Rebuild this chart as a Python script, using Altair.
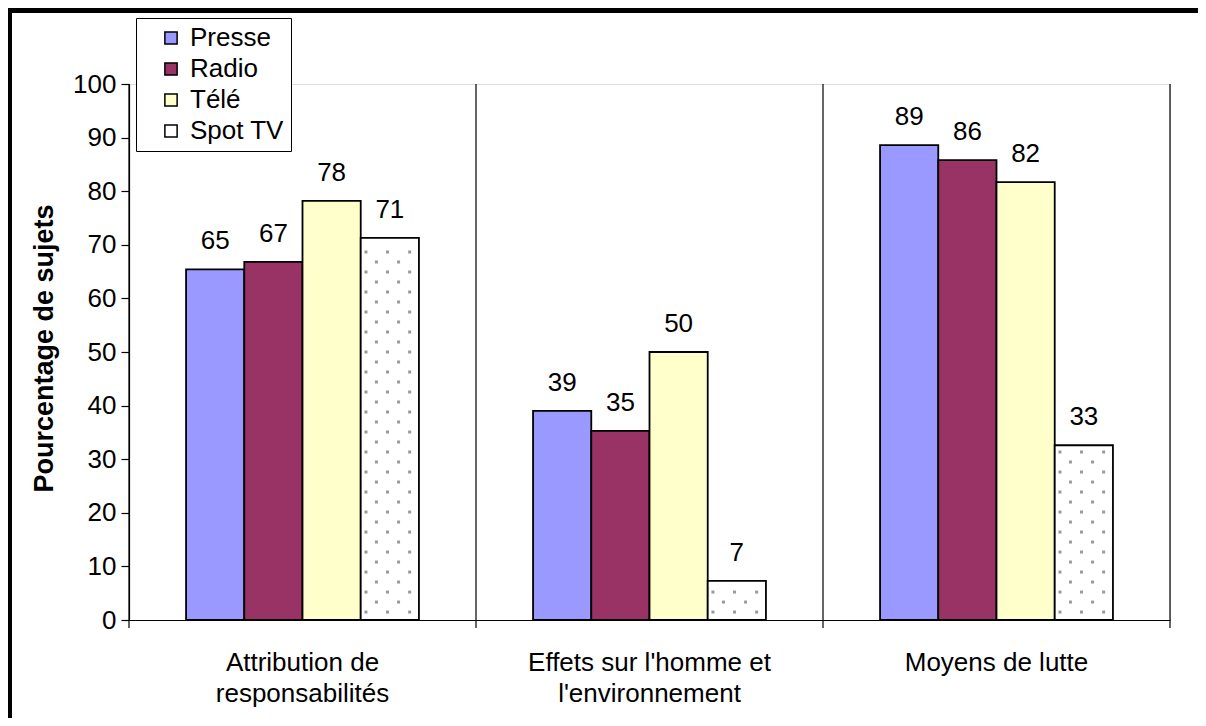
import altair as alt
import pandas as pd
import numpy as np

# ---- data ----
categories = ["Attribution de\nresponsabilités",
              "Effets sur l'homme et\nl'environnement",
              "Moyens de lutte"]
series = ["Presse", "Radio", "Télé", "Spot TV"]
presse = [65.4, 39.0, 88.6]
radio = [66.8, 35.3, 85.8]
tele = [78.2, 50.0, 81.7]
spot_tv = [71.3, 7.3, 32.6]
colors = ["#9999FF", "#993366", "#FFFFCC", "#FFFFFF"]
y_ticks = list(range(0, 101, 10))

W, H = 1041, 536
FONT = "Liberation Sans"
FS = 26

rows = []
for s, vals in zip(series, [presse, radio, tele, spot_tv]):
    for c, v in zip(categories, vals):
        rows.append({"cat": c, "series": s, "value": v})
df = pd.DataFrame(rows)

x_enc = alt.X("cat:N", sort=categories, scale=alt.Scale(paddingInner=0, paddingOuter=0),
              axis=alt.Axis(title=None, labelAngle=0, ticks=False, domain=True,
                            domainColor="black", domainWidth=1.2,
                            labelFontSize=FS, labelFont=FONT, labelColor="black",
                            labelBaseline="top", labelPadding=29, labelLineHeight=31,
                            labelLimit=0,
                            labelExpr="split(datum.label, '\\n')", grid=False))
xoff = alt.XOffset("series:N", sort=series,
                   scale=alt.Scale(paddingInner=0, paddingOuter=0.98))
y_enc = alt.Y("value:Q", scale=alt.Scale(domain=[0, 100], nice=False),
              axis=alt.Axis(title="Pourcentage de sujets", values=y_ticks,
                            grid=False, tickSize=8, tickColor="black", tickWidth=1.2,
                            domainColor="black", domainWidth=1.2,
                            labelFontSize=FS, labelFont=FONT, labelColor="black",
                            labelPadding=5,
                            titleFontSize=FS + 1, titleFont=FONT, titleFontWeight="bold",
                            titleColor="black", titleX=-85, titleY=H / 2 - 4,
                            titleAngle=-90, titleAlign="center", titleBaseline="middle"))

base = alt.Chart(df)

bars = base.mark_bar(stroke="black", strokeWidth=1.8).encode(
    x=x_enc, xOffset=xoff, y=y_enc,
    fill=alt.Fill("series:N", sort=series,
                  scale=alt.Scale(domain=series, range=colors),
                  legend=alt.Legend(orient="none", legendX=7, legendY=-66, title=None,
                                    strokeColor="black", fillColor="white", padding=7,
                                    symbolType="square", symbolSize=150,
                                    symbolStrokeColor="black", symbolStrokeWidth=1.5,
                                    symbolOffset=15, labelFontSize=FS, labelFont=FONT,
                                    labelColor="black", rowPadding=5, labelOffset=6,
                                    labelLimit=300,
                                    labelExpr="datum.label + '\u00a0\u00a0'")),
)

labels = base.mark_text(baseline="alphabetic", dy=-20, fontSize=FS, font=FONT,
                        color="black").encode(
    x=alt.X("cat:N", sort=categories), xOffset=xoff, y="value:Q",
    text=alt.Text("value:Q", format=".0f"),
)

# dotted texture of the "Spot TV" bars (decoration)
dot_rows = []
step = 1.866
for c, v in zip(categories, spot_tv):
    for k in range(-3, 45):
        yv = 68.66 - step * k
        if 0.9 < yv < v - 1.0:
            dot_rows.append({"cat": c, "dy": yv, "kind": k % 2})
dots_df = pd.DataFrame(dot_rows)
bar_left = (0.98 * 347 / 5.96 + 3 * 347 / 5.96)
band_w = 347 / 5.96
cols = [(0.09, 0), (0.27, 1), (0.46, 0), (0.65, 1), (0.84, 0)]
dot_layers = []
for frac, kind in cols:
    bp = (bar_left + frac * band_w) / 347
    dot_layers.append(
        alt.Chart(dots_df).transform_filter(alt.datum.kind == kind)
        .mark_square(size=9, color="#9a9a9a", opacity=1)
        .encode(x=alt.X("cat:N", sort=categories, bandPosition=bp), y="dy:Q")
    )

sep = alt.Chart(pd.DataFrame({"cat": categories})).mark_rule(
    color="black", strokeWidth=1.2).encode(
    x=alt.X("cat:N", sort=categories, bandPosition=0),
    y=alt.value(0), y2=alt.value(H + 8))
sep_end = alt.Chart(pd.DataFrame({"cat": categories[:1]})).mark_rule(
    color="black", strokeWidth=1.2).encode(
    x=alt.value(W), y=alt.value(0), y2=alt.value(H + 8))

frame_top = alt.Chart(pd.DataFrame({"cat": categories[:1]})).mark_rule(
    color="black", strokeWidth=5).encode(
    x=alt.value(-121), x2=alt.value(1080), y=alt.value(-73.5))
frame_left = alt.Chart(pd.DataFrame({"cat": categories[:1]})).mark_rule(
    color="black", strokeWidth=4).encode(
    x=alt.value(-119), y=alt.value(-76), y2=alt.value(H + 120))

chart = alt.layer(bars, *dot_layers, labels, sep, sep_end, frame_top, frame_left).properties(
    width=W, height=H,
    padding={"left": 121, "top": 76, "right": 28, "bottom": 98},
    autosize=alt.AutoSizeParams(type="none"),
).configure_view(stroke=None).configure(font=FONT, background="white")

chart.save("out.html", embed_options={"renderer": "svg", "actions": False})
